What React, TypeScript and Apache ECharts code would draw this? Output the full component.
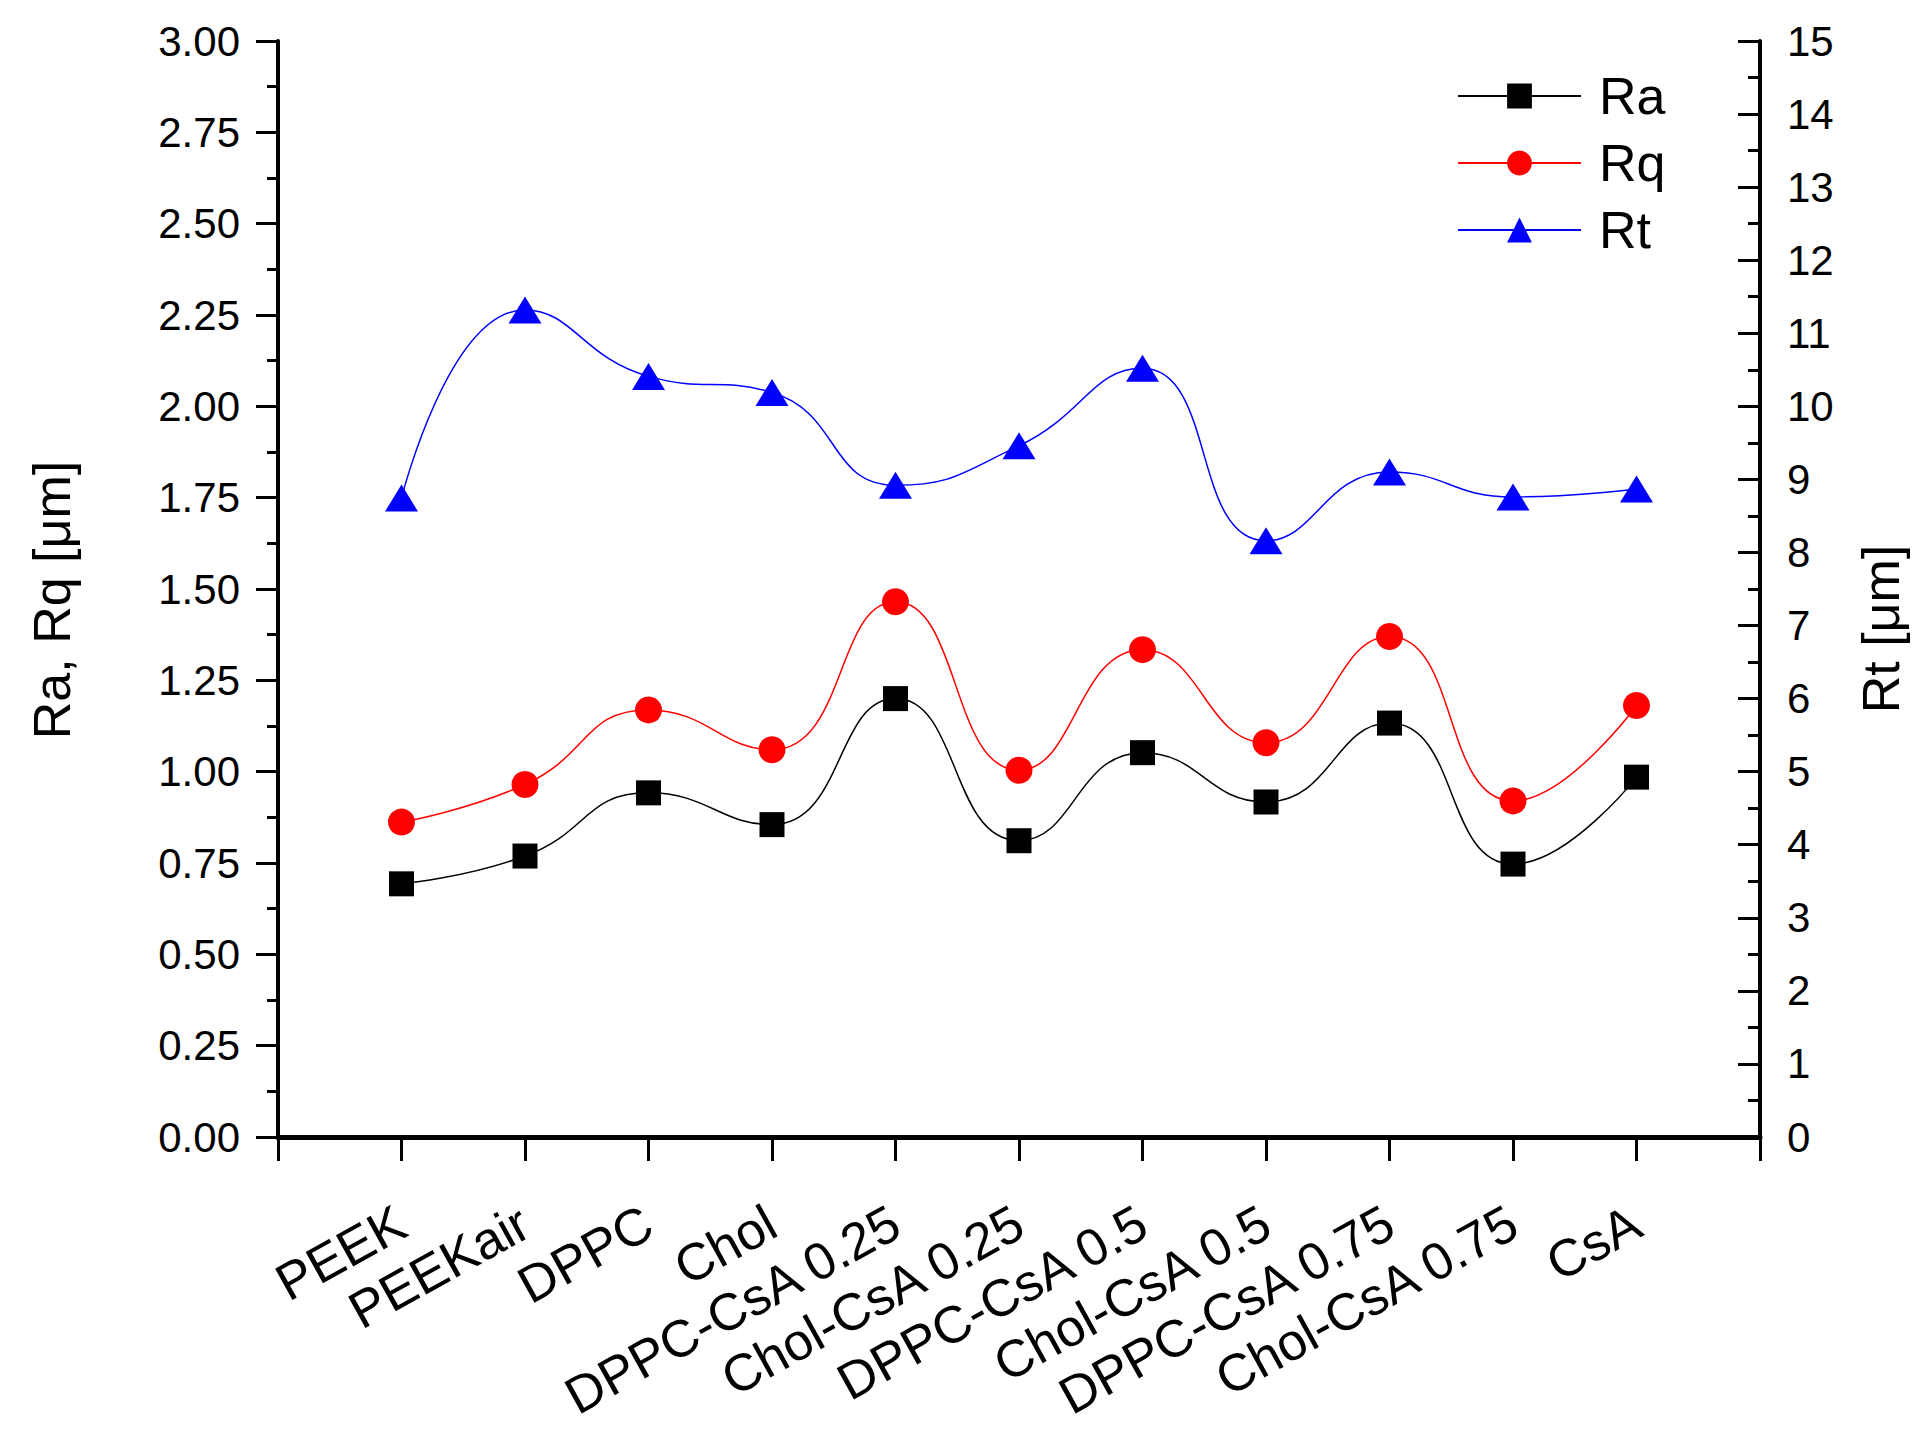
import React, { useEffect, useRef } from "react";
import * as echarts from "echarts";

const categories = [
  "",
  "PEEK",
  "PEEKair",
  "DPPC",
  "Chol",
  "DPPC-CsA 0.25",
  "Chol-CsA 0.25",
  "DPPC-CsA 0.5",
  "Chol-CsA 0.5",
  "DPPC-CsA 0.75",
  "Chol-CsA 0.75",
  "CsA",
  "",
];

const raValues = [null, 0.693, 0.769, 0.942, 0.855, 1.2, 0.811, 1.052, 0.917, 1.133, 0.747, 0.985, null];
const rqValues = [null, 0.862, 0.965, 1.169, 1.06, 1.465, 1.004, 1.334, 1.079, 1.37, 0.92, 1.181, null];
const rtValues = [null, 8.745, 11.32, 10.41, 10.19, 8.92, 9.46, 10.52, 8.16, 9.1, 8.76, 8.87, null];

const leftName = "Ra, Rq [\u03bcm]";
const rightName = "Rt [\u03bcm]";

const FONT = "'Liberation Sans', Arial, sans-serif";

export default function App() {
  const ref = useRef<HTMLDivElement>(null);

  useEffect(() => {
    if (!ref.current) return;
    const chart = echarts.init(ref.current, undefined, { renderer: "svg" });
    const axisLine = { show: true, lineStyle: { color: "#000", width: 4 } };
    chart.setOption({
      animation: false,
      backgroundColor: "#fff",
      textStyle: { fontFamily: FONT, color: "#000" },
      grid: { left: 278, right: 168, top: 41, bottom: 303, containLabel: false },
      legend: {
        show: true,
        orient: "vertical",
        left: 1457,
        top: 70,
        padding: 0,
        itemWidth: 123,
        itemHeight: 31,
        itemGap: 15,
        selectedMode: false,
        textStyle: { fontFamily: FONT, fontSize: 52, color: "#000", padding: [0, 0, 0, 13] },
        data: ["Ra", "Rq", "Rt"],
      },
      xAxis: {
        type: "category",
        data: categories,
        boundaryGap: false,
        axisLine: { show: true, onZero: false, lineStyle: { color: "#000", width: 5 } },
        axisTick: { show: true, interval: 0, length: 24, lineStyle: { color: "#000", width: 3 } },
        axisLabel: {
          interval: 0,
          rotate: 29,
          margin: 82,
          fontSize: 52,
          fontFamily: FONT,
          color: "#000",
        },
        splitLine: { show: false },
      },
      yAxis: [
        {
          type: "value",
          min: 0,
          max: 3,
          interval: 0.25,
          position: "left",
          name: leftName,
          nameLocation: "middle",
          nameRotate: 90,
          nameGap: 200,
          nameTextStyle: { fontSize: 52, fontFamily: FONT, color: "#000", padding: [0, 22, 0, 0] },
          axisLine,
          axisTick: { show: true, length: 22, lineStyle: { color: "#000", width: 3 } },
          minorTick: { show: true, splitNumber: 2, length: 11, lineStyle: { color: "#000", width: 3 } },
          axisLabel: {
            margin: 38,
            fontSize: 42,
            fontFamily: FONT,
            color: "#000",
            formatter: (v: number) => v.toFixed(2),
          },
          splitLine: { show: false },
          minorSplitLine: { show: false },
        },
        {
          type: "value",
          min: 0,
          max: 15,
          interval: 1,
          position: "right",
          name: rightName,
          nameLocation: "middle",
          nameRotate: 90,
          nameGap: 95,
          nameTextStyle: { fontSize: 52, fontFamily: FONT, color: "#000", padding: [0, 80, 0, 0] },
          axisLine,
          axisTick: { show: true, inside: true, length: 22, lineStyle: { color: "#000", width: 3 } },
          minorTick: { show: true, splitNumber: 2, length: 12, lineStyle: { color: "#000", width: 3 } },
          axisLabel: { margin: 27, fontSize: 42, fontFamily: FONT, color: "#000" },
          splitLine: { show: false },
          minorSplitLine: { show: false },
        },
      ],
      series: [
        {
          name: "Ra",
          type: "line",
          yAxisIndex: 0,
          data: raValues,
          smooth: 0.5,
          symbol: "rect",
          symbolSize: 25,
          showAllSymbol: true,
          lineStyle: { color: "#000", width: 1.5 },
          itemStyle: { color: "#000" },
          z: 3,
        },
        {
          name: "Rq",
          type: "line",
          yAxisIndex: 0,
          data: rqValues,
          smooth: 0.5,
          symbol: "circle",
          symbolSize: 27,
          showAllSymbol: true,
          lineStyle: { color: "#ff0000", width: 1.5 },
          itemStyle: { color: "#ff0000" },
          z: 3,
        },
        {
          name: "Rt",
          type: "line",
          yAxisIndex: 1,
          data: rtValues,
          smooth: 0.5,
          symbol: "triangle",
          symbolSize: [33, 27],
          showAllSymbol: true,
          lineStyle: { color: "#0000ff", width: 1.5 },
          itemStyle: { color: "#0000ff" },
          z: 3,
        },
      ],
    });
    return () => chart.dispose();
  }, []);

  return (
    <div
      ref={ref}
      style={{ position: "fixed", left: 0, top: 0, width: 1928, height: 1440, background: "#fff" }}
    />
  );
}
